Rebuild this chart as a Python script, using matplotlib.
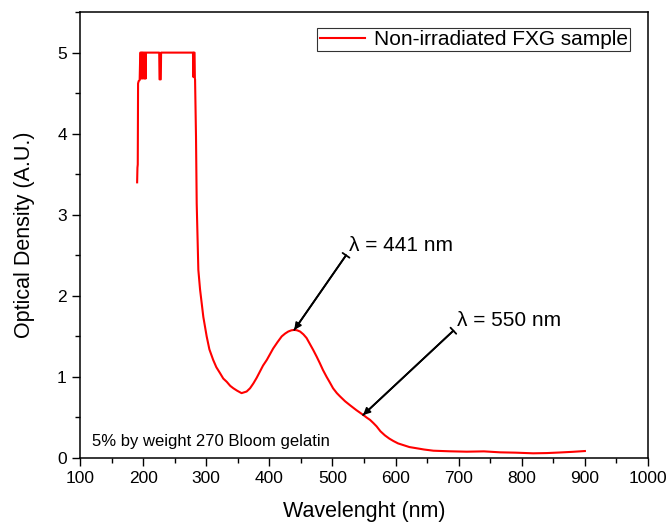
import matplotlib
matplotlib.use('Agg')
import matplotlib.pyplot as plt
from matplotlib.ticker import MultipleLocator

plt.rcParams['font.family'] = ['Liberation Sans', 'DejaVu Sans']

# wavelength (nm) and optical density
wavelength = [190.5, 191, 191.5, 192, 193, 194.5, 195.5, 196.5, 197, 197.5, 198, 199, 199.5, 200, 201,
              202, 202.5, 203, 204, 204.5, 205, 225.5, 226, 228, 228.5, 279, 279.5, 280, 281.5, 282,
              282.3, 283.8, 284.9, 287.5, 290.2, 292.8, 295.4, 300.7, 305, 311, 316, 322, 327, 332.5,
              338, 343, 349, 356, 364, 369.4, 374.7, 380, 385, 390, 396, 401, 406, 413, 419.6, 425,
              430, 435, 439.6, 444, 448.7, 454, 459, 464, 469.7, 475, 480, 485, 490.8, 496, 501, 507,
              512, 520, 528, 538, 549, 554, 559.6, 565, 570, 576, 583, 590, 596.5, 604, 612, 622, 633.6,
              645, 660, 685, 712.8, 740, 765.6, 790, 818, 840, 860, 880, 900]
density = [3.40, 3.58, 3.62, 4.62, 4.65, 4.66, 5.0, 5.0, 4.68, 5.0, 5.0, 5.0, 4.68, 5.0, 5.0,
           4.68, 5.0, 5.0, 4.68, 5.0, 5.0, 5.0, 4.67, 4.67, 5.0, 5.0, 4.70, 5.0, 5.0, 4.68,
           4.67, 3.96, 3.14, 2.32, 2.08, 1.91, 1.74, 1.50, 1.34, 1.21, 1.12, 1.045, 0.98, 0.94,
           0.89, 0.86, 0.83, 0.80, 0.82, 0.86, 0.92, 0.99, 1.065, 1.14, 1.21, 1.28, 1.35, 1.43, 1.50, 1.535,
           1.56, 1.575, 1.58, 1.575, 1.56, 1.525, 1.48, 1.41, 1.33, 1.25, 1.17, 1.085, 1.00, 0.93, 0.86, 0.80,
           0.76, 0.70, 0.65, 0.59, 0.53, 0.50, 0.47, 0.43, 0.39, 0.33, 0.28, 0.24, 0.21, 0.18, 0.16, 0.135, 0.12,
           0.105, 0.09, 0.083, 0.078, 0.082, 0.070, 0.066, 0.058, 0.061, 0.068, 0.076, 0.086]

peaks = [441, 550]
peak_od = [1.58, 0.53]
label_pos = [(521.5, 2.50), (691.6, 1.57)]

fig = plt.figure(figsize=(6.69, 5.25), dpi=100)
ax = fig.add_axes([0.1196, 0.1276, 0.8490, 0.8494])

ax.plot(wavelength, density, color='red', lw=1.5, label='Non-irradiated FXG sample')

for wl, od, (tx, ty) in zip(peaks, peak_od, label_pos):
    ax.annotate('', xy=(wl - 1.5, od), xytext=(tx, ty),
                arrowprops=dict(arrowstyle='-|>', color='black', lw=1.3,
                                mutation_scale=10, shrinkA=0, shrinkB=0))
    ax.annotate('', xy=(wl - 1.5, od), xytext=(tx, ty),
                arrowprops=dict(arrowstyle=']-, widthA=0.3, lengthA=0', color='black', lw=1.3,
                                shrinkA=0, shrinkB=0))
    ax.text(tx + 5, ty + 0.12, 'λ = %d nm' % wl, fontsize=15, va='center', ha='left')

ax.text(0.021, 0.038, '5% by weight 270 Bloom gelatin', transform=ax.transAxes,
        fontsize=12, va='center', ha='left')

ax.set_xlim(100, 1000)
ax.set_ylim(0, 5.5)
ax.xaxis.set_major_locator(MultipleLocator(100))
ax.xaxis.set_minor_locator(MultipleLocator(50))
ax.yaxis.set_major_locator(MultipleLocator(1))
ax.yaxis.set_minor_locator(MultipleLocator(0.5))
ax.tick_params(which='both', direction='out', top=False, right=False, labelsize=12.5, width=1)
ax.tick_params(which='major', length=6)
ax.tick_params(which='minor', length=3.5)
for s in ax.spines.values():
    s.set_linewidth(1.1)

ax.set_xlabel('Wavelenght (nm)', fontsize=15.5, labelpad=11)
ax.set_ylabel('Optical Density (A.U.)', fontsize=15.5, labelpad=16)

leg = ax.legend(loc='upper right', bbox_to_anchor=(0.968, 0.964), borderaxespad=0,
                fontsize=15, fancybox=False, frameon=True, handlelength=2.2,
                borderpad=0.1, handletextpad=0.4)
leg.get_frame().set_edgecolor('black')
leg.get_frame().set_linewidth(0.8)

fig.savefig('out.png', dpi=100)
